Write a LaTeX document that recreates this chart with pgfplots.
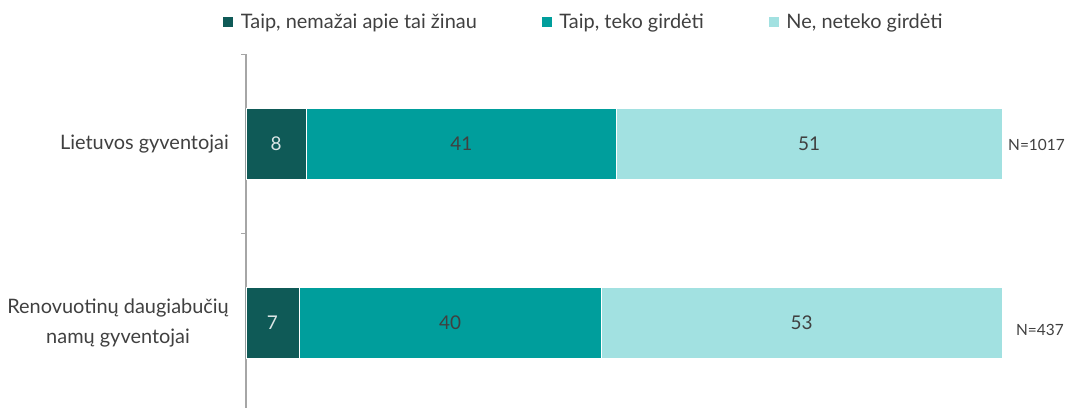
\documentclass[border=0pt]{standalone}
\usepackage{fontspec}
\setmainfont{Lato}
\usepackage{pgfplots}
\pgfplotsset{compat=1.18}
\definecolor{c1}{HTML}{0F5A57}
\definecolor{c2}{HTML}{009E9C}
\definecolor{c3}{HTML}{A2E1E1}
\definecolor{txt}{HTML}{404040}
\definecolor{axl}{HTML}{A6A6A6}
\begin{document}
\begin{tikzpicture}
\begin{axis}[
  at={(0,0)}, anchor=south west,
  scale only axis, width=756bp, height=358bp,
  xbar stacked, bar width=0.4,
  xmin=0, xmax=100, ymin=-0.5, ymax=1.5,
  axis x line=none,
  axis y line*=left,
  y axis line style={draw=axl, line width=1.2bp, -},
  ytick={-0.5,0.5,1.5}, yticklabels={},
  major tick length=5bp, tick align=outside,
  ytick style={draw=axl, line width=1bp},
  /pgf/number format/assume math mode=true,
  nodes near coords={\pgfmathprintnumber{\pgfplotspointmeta}},
  point meta=rawx,
  every node near coord/.append style={font=\fontsize{19}{19}\selectfont, text=txt},
  clip=false,
  legend columns=3,
  legend style={draw=none, fill=none, inner sep=0pt, at={(-0.0317,1.0908)}, anchor=west,
    font=\fontsize{20}{20}\selectfont, text=txt,
    nodes={inner sep=0pt},
    /tikz/every odd column/.append style={column sep=7bp},
    /tikz/every even column/.append style={column sep=64bp}},
  legend image code/.code={\fill[#1] (0bp,-5.5bp) rectangle (11bp,5.5bp);},
]
\addplot[fill=c1, draw=white, line width=0.6bp, every node near coord/.append style={text=white!85!c1}] coordinates {(7,0) (8,1)};
\addplot[fill=c2, draw=white, line width=0.6bp] coordinates {(40,0) (41,1)};
\addplot[fill=c3, draw=white, line width=0.6bp] coordinates {(53,0) (51,1)};
\legend{{Taip, nemažai apie tai žinau}, {Taip, teko girdėti}, {Ne, neteko girdėti}}
\node[anchor=east, inner sep=0pt, align=center, text=txt, font=\fontsize{20}{31}\selectfont] at (axis cs:0,1) [xshift=-17bp] {Lietuvos gyventojai};
\node[anchor=east, inner sep=0pt, align=center, text=txt, font=\fontsize{20}{31}\selectfont] at (axis cs:0,0) [xshift=-17bp] {Renovuotinų daugiabučių\\namų gyventojai};
\node[anchor=east, inner sep=0pt, text=txt, font=\fontsize{15.5}{15.5}\selectfont] at (axis cs:100,1) [xshift=63bp, yshift=-1bp] {N=1017};
\node[anchor=east, inner sep=0pt, text=txt, font=\fontsize{15.5}{15.5}\selectfont] at (axis cs:100,0) [xshift=62bp, yshift=-7bp] {N=437};
\end{axis}
\pgfresetboundingbox
\path (-246bp,4.5bp) rectangle (822bp,412.5bp);
\end{tikzpicture}
\end{document}
